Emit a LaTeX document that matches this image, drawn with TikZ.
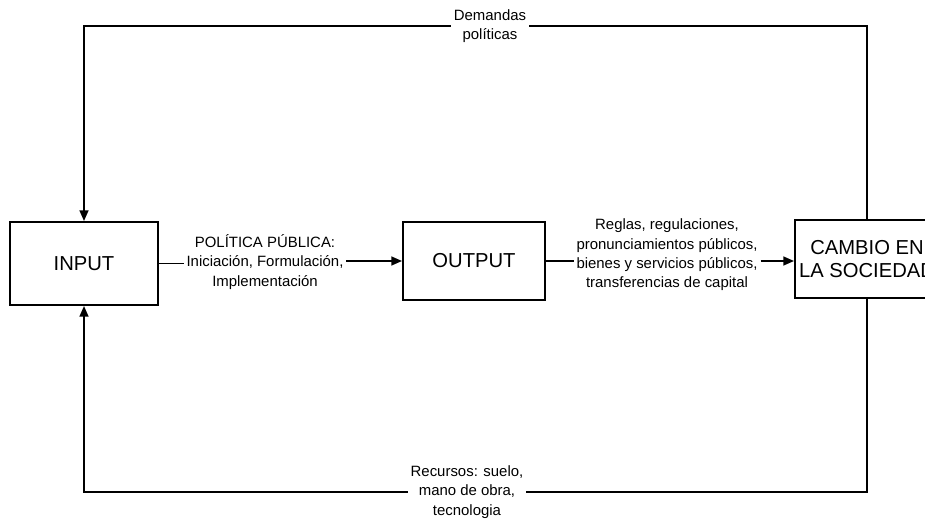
\documentclass[tikz,border=0pt]{standalone}
\usepackage{fontspec}
\setmainfont{Liberation Sans}
\usetikzlibrary{arrows.meta}

\begin{document}
\begin{tikzpicture}[
	box/.style={draw, line width=0.4mm, minimum height=1.56cm, inner sep=0pt, align=center, font=\fontsize{11.5}{13.5}\selectfont},
	lbl/.style={fill=white, inner sep=1.5pt, align=center, font=\fontsize{8.5}{11}\selectfont},
	conn/.style={line width=0.35mm},
	tip/.style={-{Triangle[length=6pt, width=5pt]}}
	]
	%%%%% START %%%%%
	\useasboundingbox (0, 0) rectangle (18.5, 10.44);
	
	\node[box, minimum width=2.96cm, minimum height=1.66cm] (input) at (1.68, 5.17) {INPUT};
	\node[box, minimum width=2.84cm] (output) at (9.48, 5.22) {OUTPUT};
	\node[box, minimum width=2.88cm] (cambio) at (17.34, 5.26) {CAMBIO EN\\LA SOCIEDAD};
	
	\node[lbl] (politica) at (5.3, 5.2) {POLÍTICA PÚBLICA:\\Iniciación, Formulación,\\Implementación};
	\node[lbl] (reglas) at (13.34, 5.34) {Reglas, regulaciones,\\pronunciamientos públicos,\\bienes y servicios públicos,\\transferencias de capital};
	\node[lbl] (demandas) at (9.8, 9.92) {Demandas\\políticas};
	\node[lbl] (recursos) at (9.34, 0.6) {Recursos: suelo,\\mano de obra,\\tecnologia};
	
	% middle row
	\draw[conn] (input.east) -- (input.east -| politica.west);
	\draw[conn, tip] (politica.east |- output.west) -- (output.west);
	\draw[conn] (output.east) -- (output.east -| reglas.west);
	\draw[conn, tip] (reglas.east |- output.east) -- (cambio.west |- output.east);
	
	% feedback loops
	\draw[conn] (cambio.north) |- (demandas.east);
	\draw[conn, tip] (demandas.west) -| (input.north);
	\draw[conn] (cambio.south) |- (recursos.east);
	\draw[conn, tip] (recursos.west) -| (input.south);
	
	%%%%% END %%%%%
\end{tikzpicture}
\end{document}
